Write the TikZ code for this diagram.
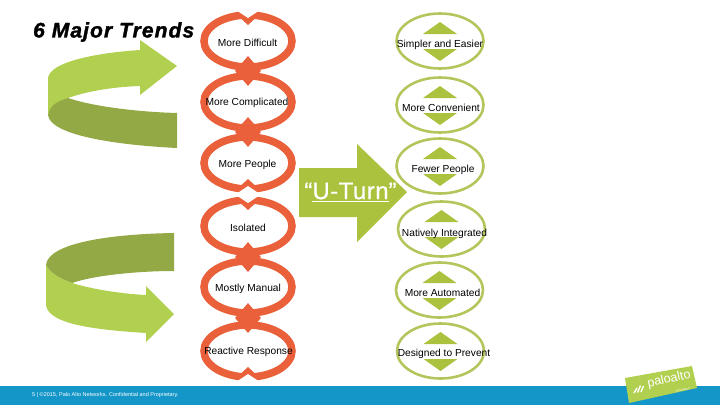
\documentclass[tikz,border=0pt]{standalone}
\usepackage{fontspec}
\setmainfont{Liberation Sans}
\usetikzlibrary{positioning,shapes.geometric}
\definecolor{trendorange}{HTML}{E9603A}
\definecolor{trendgreen}{HTML}{ABC23F}
\definecolor{ringgreen}{HTML}{B3C65C}
\definecolor{arrowlight}{HTML}{B2D050}
\definecolor{arrowdark}{HTML}{93A945}
\definecolor{footerblue}{HTML}{1596C8}
\tikzset{
    hard/.style={ellipse,draw=trendorange,line width=7.5pt,minimum width=88pt,minimum height=52pt,inner sep=0pt,outer sep=0pt},
    easy/.style={ellipse,draw=ringgreen,line width=2.6pt,minimum width=87pt,minimum height=55pt,inner sep=0pt,outer sep=0pt},
    joint/.style={diamond,fill=trendorange,minimum width=26pt,minimum height=30pt,inner sep=0pt},
    trend/.style={font=\fontsize{10.2}{12}\selectfont,inner sep=0pt,text height=7.4pt,text depth=0pt},
}
% chevrons on the free ends of the orange rings
\newcommand{\capup}[1]{\fill[trendorange,shift={(#1.north)}] (-13,-2)--(0,10)--(13,-2)--cycle;
    \fill[white,shift={(#1.north)}] (-12,-5)--(12,-5)--(0,3)--cycle;}
\newcommand{\capdown}[1]{\fill[trendorange,shift={(#1.south)}] (-13,2)--(0,-10)--(13,2)--cycle;
    \fill[white,shift={(#1.south)}] (-12,5)--(12,5)--(0,-3)--cycle;}
% green wedges above and below the text
\newcommand{\wedges}[1]{\fill[trendgreen,shift={(#1)}] (-17,-7)--(0,-19)--(17,-7)--cycle (-17,8)--(0,20)--(17,8)--cycle;}

\begin{document}
\begin{tikzpicture}[x=1pt,y=-1pt]
    \useasboundingbox (0,0) rectangle (720,405);
    \node[anchor=west,inner sep=0pt,font=\fontsize{21}{22}\selectfont\bfseries\itshape\addfontfeature{LetterSpace=5.2,FakeBold=1.6}] (title) at (33,32) {6 Major Trends};
    % upper u-turn
    \fill[arrowlight] (48,78) .. controls (50,62) and (95,53) .. (140,50) -- (140,40) -- (177,66) -- (140,95) -- (140,86) .. controls (110,87) and (85,92) .. (68,98) .. controls (58,101) and (50,107) .. (48,115) -- cycle;
    \fill[arrowdark] (48,115) .. controls (50,105) and (58,101) .. (68,98) .. controls (95,107) and (140,112) .. (177,113) -- (177,148) .. controls (115,145) and (50,135) .. (48,115) -- cycle;
    % lower u-turn
    \fill[arrowdark] (174,233) .. controls (110,234) and (48,243) .. (46,265) .. controls (50,273) and (60,279) .. (72,283) .. controls (95,275) and (140,271) .. (174,271) -- cycle;
    \fill[arrowlight] (46,265) .. controls (50,273) and (60,279) .. (72,283) .. controls (95,290) and (125,294) .. (146,295) -- (146,286) -- (174,314) -- (146,342) -- (146,333) .. controls (100,330) and (48,325) .. (46,305) -- cycle;
    % orange rings
    \node[hard] (difficult) at (248,41) {};
    \node[hard,below=9pt of difficult] (complicated) {};
    \node[hard,below=9pt of complicated] (people) {};
    \node[hard,below=11pt of people] (isolated) {};
    \node[hard,below=9pt of isolated] (manual) {};
    \node[hard,below=12pt of manual] (reactive) {};
    \node[joint] (jointa) at (248,71) {};
    \node[joint] (jointb) at (248,132) {};
    \node[joint] (jointc) at (248,257) {};
    \node[joint] (jointd) at (248,318) {};
    \capup{difficult}
    \capdown{people}
    \capup{isolated}
    \capdown{reactive}
    % green rings
    \node[easy] (simpler) at (440,41) {};
    \node[easy,below=9pt of simpler] (convenient) {};
    \node[easy,below=6pt of convenient] (fewer) {};
    \node[easy,below=8pt of fewer,xshift=1.5pt] (native) {};
    \node[easy,below=6pt of native,xshift=-2pt] (automated) {};
    \node[easy,below=6pt of automated,xshift=1pt] (prevent) {};
    \wedges{simpler}
    \wedges{convenient}
    \wedges{fewer}
    \wedges{native}
    \wedges{automated}
    \wedges{prevent}
    % big arrow in the middle
    \fill[trendgreen] (299,168) -- (357,168) -- (357,144) -- (407,192) -- (357,242) -- (357,217) -- (299,217) -- cycle;
    \node[white,inner sep=0pt,font=\fontsize{24}{26}\selectfont\addfontfeature{LetterSpace=2,FakeBold=0.6}] (uturn) at (350.5,192) {“\underline{U-Turn}”};
    % labels
    \node[trend] (difficulttext) at (247.5,43) {More Difficult};
    \node[trend] (complicatedtext) at (247,101.5) {More Complicated};
    \node[trend] (peopletext) at (247.5,164) {More People};
    \node[trend] (isolatedtext) at (248,228) {Isolated};
    \node[trend] (manualtext) at (248,287.5) {Mostly Manual};
    \node[trend] (reactivetext) at (248.5,351) {Reactive Response};
    \node[trend] (simplertext) at (440,44) {Simpler and Easier};
    \node[trend] (convenienttext) at (441,107.5) {More Convenient};
    \node[trend] (fewertext) at (443,168.5) {Fewer People};
    \node[trend] (nativetext) at (444.5,232.5) {Natively Integrated};
    \node[trend] (automatedtext) at (442.5,292.5) {More Automated};
    \node[trend] (preventtext) at (444,353) {Designed to Prevent};
    % footer and logo
    \node[fill=footerblue,minimum width=720pt,minimum height=19pt,inner sep=0pt,outer sep=0pt] (footer) at (360,395.5) {};
    \node[anchor=west,white,inner sep=0pt,font=\fontsize{5.5}{6}\selectfont] (legal) at (32,395) {5 | ©2015, Palo Alto Networks. Confidential and Proprietary.};
    \fill[arrowlight] (625,378) -- (692,366) -- (697,388) -- (629,403) -- cycle;
    \node[white,rotate=12,inner sep=0pt,font=\fontsize{12.5}{13}\selectfont] (paloalto) at (669,379.5) {paloalto};
    \node[white,rotate=12,inner sep=0pt,font=\fontsize{2.5}{3}\selectfont] (networks) at (683,390) {NETWORKS};
    \draw[white,line width=1.4pt] (634,393) -- (637,388) (637.5,392.5) -- (640.5,385.5) (641,392) -- (643.5,386);
\end{tikzpicture}
\end{document}
